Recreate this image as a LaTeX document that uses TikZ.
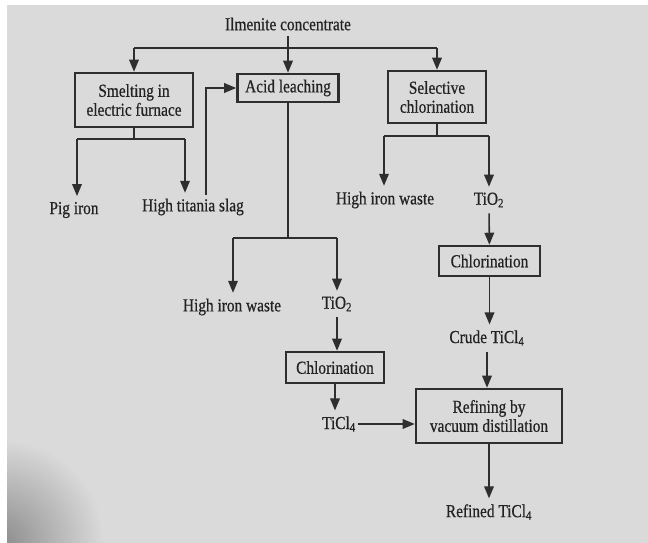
\documentclass[tikz,border=0pt]{standalone}
\usepackage{fontspec}
\setmainfont[FakeStretch=0.84,FakeBold=0.6]{Liberation Serif}
\usepackage{tikz}
\usetikzlibrary{arrows.meta,positioning}
\definecolor{paper}{HTML}{DADADA}
\definecolor{ink}{HTML}{2E2E2E}
\definecolor{type}{HTML}{222222}
\definecolor{shadow}{HTML}{8C8C8C}

\begin{document}
\begin{tikzpicture}[x=0.025cm,y=-0.025cm,
  box/.style={rectangle,draw=ink,line width=1.8pt,text=type,align=center,inner sep=2pt},
  lbl/.style={text=type,inner sep=4pt},
  line/.style={ink,line width=1.1pt},
  arr/.style={-{Triangle[length=3mm,width=2.4mm]},ink,line width=1.1pt},
  font=\fontsize{13}{13.5}\selectfont]
\useasboundingbox (0,0) rectangle (648,543);
\fill[white] (0,0) rectangle (648,543);
\fill[paper] (7,5) rectangle (648,543);
\begin{scope}
\clip (7,5) rectangle (648,543);
\shade[inner color=shadow,outer color=paper] (0,543) circle (2.6cm);
\end{scope}
% nodes
\node[lbl] (ilm) at (288,24) {Ilmenite concentrate};
\node[box,minimum width=2.95cm,minimum height=1.35cm] (smelt) at (134,100) {Smelting in\\electric furnace};
\node[box,minimum width=2.525cm,minimum height=0.7cm] (acid) at (288,88) {Acid leaching};
\node[box,minimum width=2.45cm,minimum height=1.3cm] (selchl) at (437,97) {Selective\\chlorination};
\node[lbl] (pig) at (74,210) {Pig iron};
\node[lbl] (slag) at (193,207) {High titania slag};
\node[lbl] (waste1) at (385,200) {High iron waste};
\node[lbl] (tio2a) at (489,200) {TiO\textsubscript{2}};
\node[box,minimum width=2.525cm,minimum height=0.75cm] (chlorR) at (489.5,261) {Chlorination};
\node[lbl] (crude) at (487,338) {Crude TiCl\textsubscript{4}};
\node[lbl] (waste2) at (232,307) {High iron waste};
\node[lbl] (tio2b) at (337,304) {TiO\textsubscript{2}};
\node[box,minimum width=2.45cm,minimum height=0.775cm] (chlorL) at (335,367.5) {Chlorination};
\node[lbl,inner xsep=1pt] (ticl4) at (339,424) {TiCl\textsubscript{4}};
\node[box,minimum width=3.65cm,minimum height=1.35cm] (refine) at (489,416) {Refining by\\vacuum distillation};
\node[lbl] (refined) at (489,512) {Refined TiCl\textsubscript{4}};
% feed split
\coordinate (top) at (288,48);
\draw[arr] (ilm) -- (acid);
\draw[line] (top -| smelt) -- (top -| selchl);
\draw[arr] (top -| smelt) -- (smelt);
\draw[arr] (top -| selchl) -- (selchl);
% smelting
\coordinate (sa) at (77,139);
\coordinate (sb) at (185,139);
\draw[line] (smelt) -- (smelt |- sa);
\draw[line] (sa) -- (sb);
\draw[arr] (sa) -- (sa |- pig.north);
\draw[arr] (sb) -- (sb |- slag.north);
\coordinate (rc) at (206,195);
\draw[arr] (rc) |- (acid.west);
% leaching
\coordinate (la) at (233,238);
\coordinate (lb) at (337,238);
\draw[line] (acid) -- (acid |- la);
\draw[line] (la) -- (lb);
\draw[arr] (la) -- (la |- waste2.north);
\draw[arr] (lb) -- (lb |- tio2b.north);
\draw[arr] (tio2b) -- (tio2b |- chlorL.north);
\draw[arr] (chlorL) -- (chlorL |- ticl4.north);
\draw[arr] (ticl4) -- (ticl4 -| refine.west);
% selective chlorination
\coordinate (ca) at (384,136);
\coordinate (cb) at (489,136);
\draw[line] (selchl) -- (selchl |- ca);
\draw[line] (ca) -- (cb);
\draw[arr] (ca) -- (ca |- waste1.north);
\draw[arr] (cb) -- (cb |- tio2a.north);
\draw[arr] (tio2a) -- (chlorR);
\draw[arr] (chlorR) -- (chlorR |- crude.north);
\draw[arr] (crude) -- (crude |- refine.north);
\draw[arr] (refine) -- (refine |- refined.north);
\end{tikzpicture}
\end{document}
